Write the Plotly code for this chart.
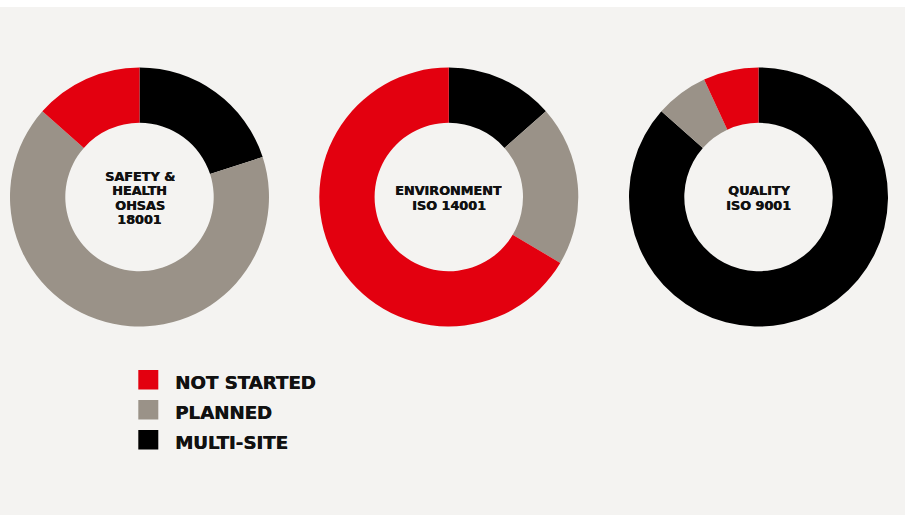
import plotly.graph_objects as go

W, H = 905, 515

# Status categories, in clockwise order from 12 o'clock
statuses = ["MULTI-SITE", "PLANNED", "NOT STARTED"]
status_colors = ["#000000", "#9a9288", "#e3000f"]

# Share of sites per standard (%), same order as statuses
safety_values = [20.0, 66.5, 13.5]
environment_values = [13.5, 20.0, 66.5]
quality_values = [86.5, 6.6, 6.9]

# Centre captions (one entry per line)
safety_caption = ["SAFETY &", "HEALTH", "OHSAS", "18001"]
environment_caption = ["ENVIRONMENT", "ISO 14001"]
quality_caption = ["QUALITY", "ISO 9001"]

# Legend order
legend_labels = ["NOT STARTED", "PLANNED", "MULTI-SITE"]
legend_colors = ["#e3000f", "#9a9288", "#000000"]

BG = "#f4f3f1"
FONT = "DejaVu Sans"
INK = "#111111"
# slight horizontal text shadow to give the labels a heavier stroke
HEAVY = "0.5px 0 0 #111111"


def px_x(v):
    return v / W


def px_y(v):
    return 1 - v / H


donuts = [
    (safety_values, safety_caption, 139.5),
    (environment_values, environment_caption, 448.8),
    (quality_values, quality_caption, 758.5),
]
cy, radius = 197.0, 129.5
line_pitch = 14.3

fig = go.Figure()
annotations = []
for values, caption, cx in donuts:
    fig.add_trace(go.Pie(
        labels=statuses,
        values=values,
        hole=0.573,
        sort=False,
        direction="clockwise",
        rotation=0,
        marker=dict(colors=status_colors, line=dict(width=0)),
        textinfo="none",
        hoverinfo="label+percent",
        showlegend=False,
        domain=dict(x=[px_x(cx - radius), px_x(cx + radius)],
                    y=[px_y(cy + radius), px_y(cy - radius)]),
    ))
    n = len(caption)
    for i, line in enumerate(caption):
        ly = cy + (i - (n - 1) / 2) * line_pitch + 1
        annotations.append(dict(
            x=px_x(cx), y=px_y(ly), xref="paper", yref="paper",
            text=line, showarrow=False, xanchor="center", yanchor="middle",
            height=13, borderpad=0,
            font=dict(family=FONT, size=12.8, color=INK, weight="bold",
                      shadow=HEAVY),
        ))

shapes = [
    # white strip along the top edge
    dict(type="rect", xref="paper", yref="paper", x0=0, x1=1,
         y0=px_y(7), y1=1, fillcolor="#ffffff", line=dict(width=0),
         layer="below"),
]

# Legend: coloured squares with bold labels
for i, (label, color) in enumerate(zip(legend_labels, legend_colors)):
    top = 370 + i * 30
    shapes.append(dict(
        type="rect", xref="paper", yref="paper",
        x0=px_x(138.3), x1=px_x(158.3), y0=px_y(top + 19.5), y1=px_y(top),
        fillcolor=color, line=dict(width=0),
    ))
    annotations.append(dict(
        x=px_x(172.5), y=px_y(top + 12.5), xref="paper", yref="paper",
        text=label, showarrow=False, xanchor="left", yanchor="middle",
        font=dict(family=FONT, size=18.2, color=INK, weight="bold",
                  shadow=HEAVY),
    ))

fig.update_layout(
    width=W, height=H,
    margin=dict(l=0, r=0, t=0, b=0),
    paper_bgcolor=BG,
    plot_bgcolor=BG,
    shapes=shapes,
    annotations=annotations,
)

fig.write_html("out.html")
